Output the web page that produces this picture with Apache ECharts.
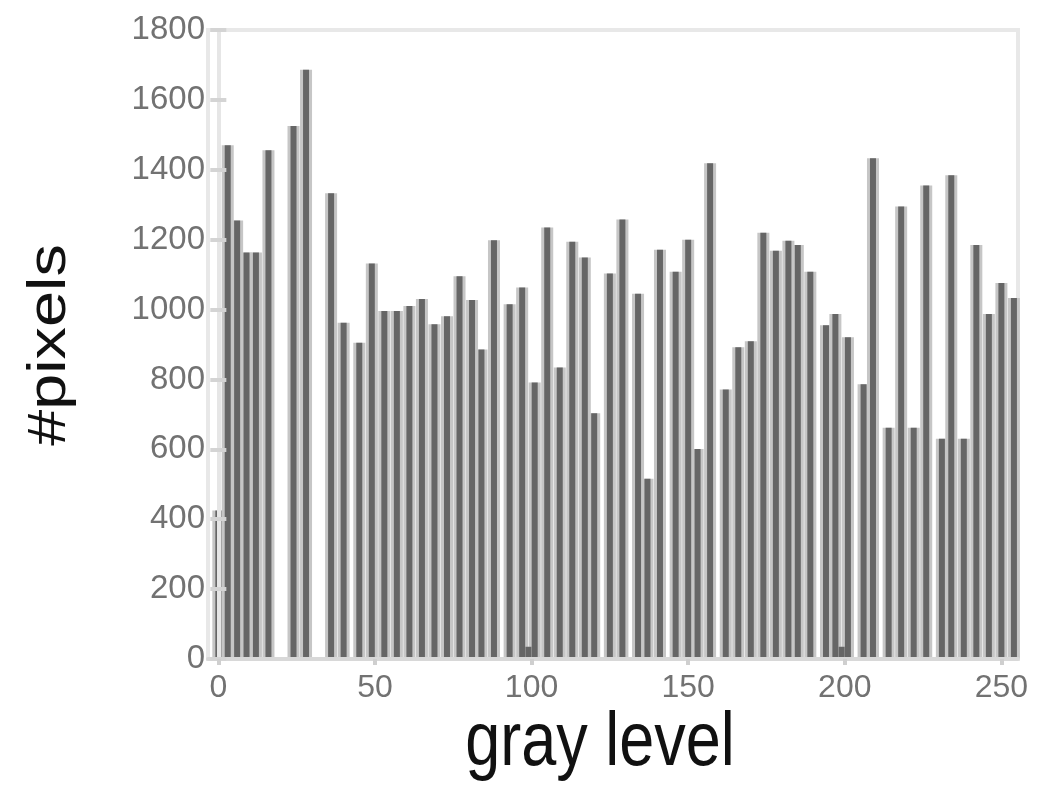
<!DOCTYPE html>
<html>
<head>
<meta charset="utf-8">
<script src="https://cdn.jsdelivr.net/npm/echarts@6/dist/echarts.min.js"></script>
<style>
html,body{margin:0;padding:0;background:#fff;}
#chart{width:1044px;height:789px;}
</style>
</head>
<body>
<div id="chart"></div>
<script>
// ---- data ----
const grayLevels = [0,3,6,9,12,16,24,28,36,40,45,49,53,57,61,65,69,73,77,81,84,88,93,97,99,101,105,109,113,117,120,125,129,134,137,141,146,150,153,157,162,166,170,174,178,182,185,189,194,197,199,201,206,209,214,218,222,226,231,234,238,242,246,250,254];
const pixelCounts = [425,1470,1255,1163,1163,1456,1525,1686,1333,962,905,1132,996,996,1010,1030,958,981,1095,1027,886,1198,1015,1063,35,791,1235,834,1194,1149,703,1103,1258,1045,516,1171,1108,1200,601,1419,771,892,909,1220,1168,1197,1185,1108,955,987,35,921,786,1433,662,1295,662,1355,630,1384,630,1185,987,1076,1033];
const xTicks = [0,50,100,150,200,250];
const yTicks = [0,200,400,600,800,1000,1200,1400,1600,1800];
const xTitle = 'gray level';
const yTitle = '#pixels';

const pairs = grayLevels.map((g, i) => [g, pixelCounts[i]]);

const chart = echarts.init(document.getElementById('chart'), null, {renderer: 'canvas'});
const FONT = '"Liberation Sans", Arial, Helvetica, sans-serif';
const X_MIN = -3.3, X_MAX = 255.3;

const baseX = {
  type: 'value', min: X_MIN, max: X_MAX,
  splitLine: {show: false}
};

chart.setOption({
  animation: false,
  backgroundColor: '#ffffff',
  grid: {
    left: 208, right: 26, top: 30, bottom: 130,
    show: true, borderColor: '#e8e8e8', borderWidth: 4, backgroundColor: 'transparent'
  },
  xAxis: [
    Object.assign({}, baseX, {
      position: 'bottom', z: 5,
      axisLine: {show: true, onZero: false, lineStyle: {color: '#d8d8d8', width: 4}},
      axisTick: {show: false},
      axisLabel: {
        customValues: xTicks, color: '#727272', fontSize: 32, fontFamily: FONT, margin: 13,
        formatter: v => String(v)
      }
    }),
    Object.assign({}, baseX, {
      position: 'bottom', show: false
    }),
    Object.assign({}, baseX, {
      position: 'top', z: 5,
      axisLine: {show: false},
      axisTick: {show: true, inside: true, length: 6, customValues: xTicks, lineStyle: {color: '#cfcfcf', width: 4}},
      axisLabel: {show: false}
    })
  ],
  yAxis: [
    {
      type: 'value', min: 0, max: 1800, interval: 200, position: 'left', z: 5,
      splitLine: {show: false},
      axisLine: {show: true, lineStyle: {color: '#e6e6e6', width: 4}},
      axisTick: {show: true, inside: true, length: 8, lineStyle: {color: '#d4d4d4', width: 4}},
      axisLabel: {
        customValues: yTicks, color: '#727272', fontSize: 33, fontFamily: FONT, margin: 3,
        formatter: v => String(v)
      }
    },
    {
      type: 'value', min: 0, max: 1800, interval: 200, position: 'right', z: 5,
      splitLine: {show: false},
      axisLine: {show: false},
      axisTick: {show: true, inside: true, length: 8, lineStyle: {color: '#d4d4d4', width: 4}},
      axisLabel: {show: false}
    }
  ],
  series: [
    {
      type: 'bar', name: 'halo', xAxisIndex: 1, yAxisIndex: 0,
      data: pairs, barWidth: 12, z: 1,
      itemStyle: {color: '#c6c6c6'}, silent: true
    },
    {
      type: 'bar', name: 'count', xAxisIndex: 0, yAxisIndex: 0,
      data: pairs, barWidth: 6, z: 2,
      itemStyle: {color: '#666666'}
    }
  ],
  graphic: [
    {
      type: 'text', x: 600, y: 744, scaleY: 1.2,
      style: {text: xTitle, fontSize: 63, fontFamily: FONT, fill: '#111111', align: 'center', verticalAlign: 'middle'}
    },
    {
      type: 'text', x: 50, y: 345, rotation: Math.PI / 2, scaleX: 1.2,
      style: {text: yTitle, fontSize: 54, fontFamily: FONT, fill: '#111111', align: 'center', verticalAlign: 'middle'}
    }
  ]
});
</script>
</body>
</html>
